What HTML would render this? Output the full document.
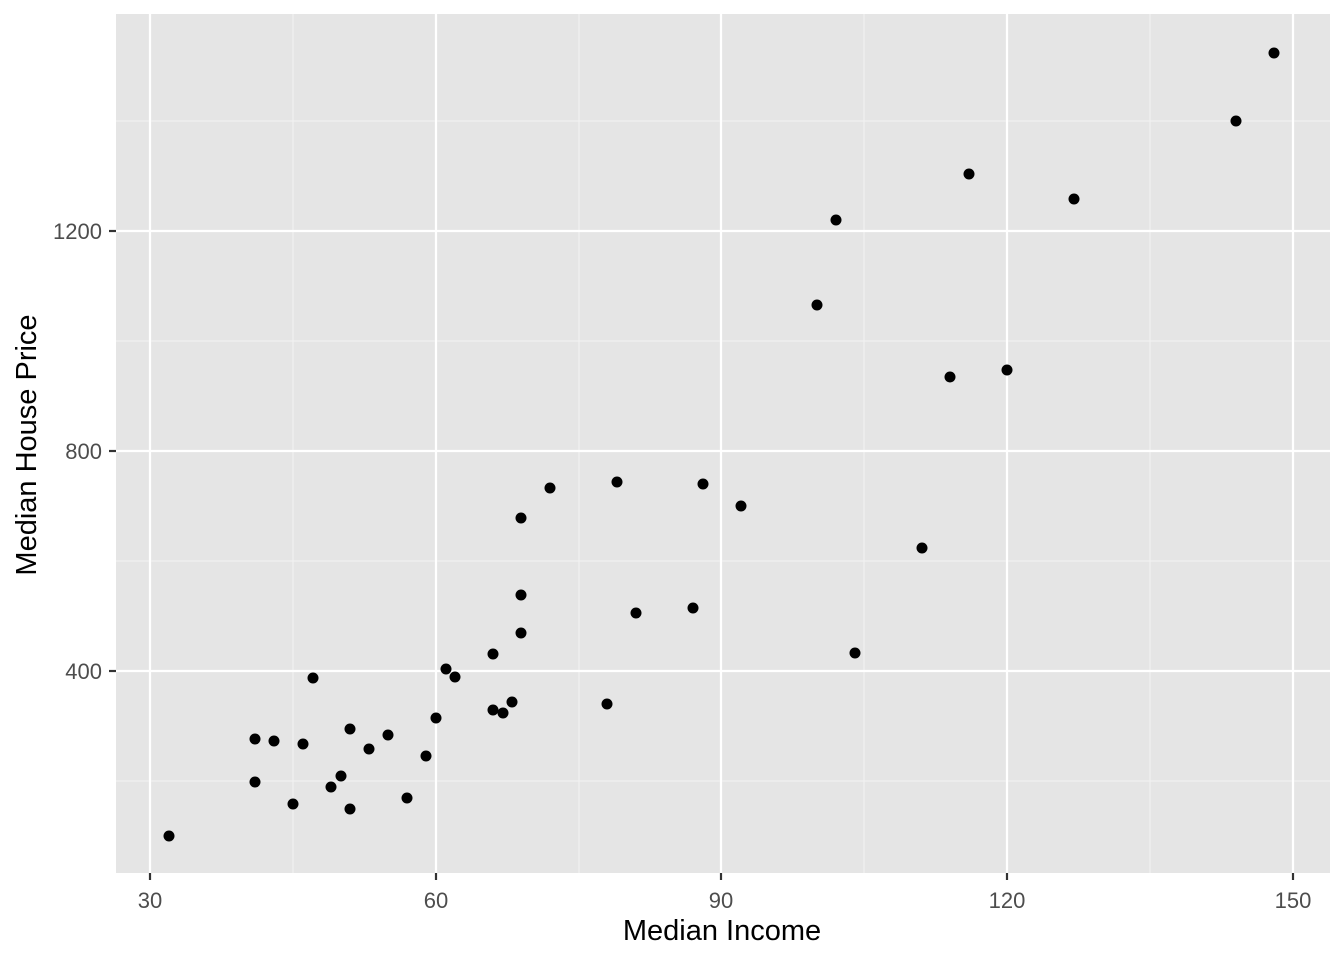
<!DOCTYPE html>
<html><head><style>body{margin:0;background:#fff}</style></head><body>
<svg width="1344" height="960" xmlns="http://www.w3.org/2000/svg" font-family="Liberation Sans, Arial, sans-serif">
<rect x="0" y="0" width="1344" height="960" fill="#fff"/>
<rect x="116" y="14" width="1214" height="859" fill="#e5e5e5"/>
<g stroke="#f2f2f2" stroke-width="1.1">
<line x1="293" y1="14" x2="293" y2="873"/><line x1="579" y1="14" x2="579" y2="873"/><line x1="864" y1="14" x2="864" y2="873"/><line x1="1150" y1="14" x2="1150" y2="873"/>
<line x1="116" y1="121" x2="1330" y2="121"/><line x1="116" y1="341" x2="1330" y2="341"/><line x1="116" y1="561" x2="1330" y2="561"/><line x1="116" y1="781" x2="1330" y2="781"/>
</g>
<g stroke="#fff" stroke-width="2.2">
<line x1="150" y1="14" x2="150" y2="873"/><line x1="436" y1="14" x2="436" y2="873"/><line x1="721" y1="14" x2="721" y2="873"/><line x1="1007" y1="14" x2="1007" y2="873"/><line x1="1293" y1="14" x2="1293" y2="873"/>
<line x1="116" y1="231" x2="1330" y2="231"/><line x1="116" y1="451" x2="1330" y2="451"/><line x1="116" y1="671" x2="1330" y2="671"/>
</g>
<g stroke="#333" stroke-width="2.2">
<line x1="150" y1="873" x2="150" y2="880"/><line x1="436" y1="873" x2="436" y2="880"/><line x1="721" y1="873" x2="721" y2="880"/><line x1="1007" y1="873" x2="1007" y2="880"/><line x1="1293" y1="873" x2="1293" y2="880"/>
<line x1="109" y1="231" x2="116" y2="231"/><line x1="109" y1="451" x2="116" y2="451"/><line x1="109" y1="671" x2="116" y2="671"/>
</g>
<g fill="#4d4d4d" font-size="22" text-anchor="middle">
<text x="150" y="908">30</text><text x="436" y="908">60</text><text x="721" y="908">90</text><text x="1007" y="908">120</text><text x="1293" y="908">150</text>
</g>
<g fill="#4d4d4d" font-size="22" text-anchor="end">
<text x="102" y="239">1200</text><text x="102" y="459">800</text><text x="102" y="679">400</text>
</g>
<text x="722" y="940" font-size="29" text-anchor="middle" fill="#000">Median Income</text>
<text x="0" y="0" font-size="29" text-anchor="middle" fill="#000" transform="translate(36,445) rotate(-90)">Median House Price</text>
<g fill="#000">
<circle cx="169" cy="836" r="5.5"/><circle cx="255" cy="739" r="5.5"/><circle cx="255" cy="782" r="5.5"/><circle cx="274" cy="741" r="5.5"/><circle cx="293" cy="804" r="5.5"/><circle cx="303" cy="744" r="5.5"/><circle cx="313" cy="678" r="5.5"/><circle cx="331" cy="787" r="5.5"/><circle cx="341" cy="776" r="5.5"/><circle cx="350" cy="729" r="5.5"/><circle cx="350" cy="809" r="5.5"/><circle cx="369" cy="749" r="5.5"/><circle cx="388" cy="735" r="5.5"/><circle cx="407" cy="798" r="5.5"/><circle cx="426" cy="756" r="5.5"/><circle cx="436" cy="718" r="5.5"/><circle cx="446" cy="669" r="5.5"/><circle cx="455" cy="677" r="5.5"/><circle cx="493" cy="654" r="5.5"/><circle cx="493" cy="710" r="5.5"/><circle cx="503" cy="713" r="5.5"/><circle cx="512" cy="702" r="5.5"/><circle cx="521" cy="633" r="5.5"/><circle cx="521" cy="595" r="5.5"/><circle cx="521" cy="518" r="5.5"/><circle cx="550" cy="488" r="5.5"/><circle cx="607" cy="704" r="5.5"/><circle cx="617" cy="482" r="5.5"/><circle cx="636" cy="613" r="5.5"/><circle cx="693" cy="608" r="5.5"/><circle cx="703" cy="484" r="5.5"/><circle cx="741" cy="506" r="5.5"/><circle cx="817" cy="305" r="5.5"/><circle cx="836" cy="220" r="5.5"/><circle cx="855" cy="653" r="5.5"/><circle cx="922" cy="548" r="5.5"/><circle cx="950" cy="377" r="5.5"/><circle cx="969" cy="174" r="5.5"/><circle cx="1007" cy="370" r="5.5"/><circle cx="1074" cy="199" r="5.5"/><circle cx="1236" cy="121" r="5.5"/><circle cx="1274" cy="53" r="5.5"/>
</g>
</svg>
</body></html>
